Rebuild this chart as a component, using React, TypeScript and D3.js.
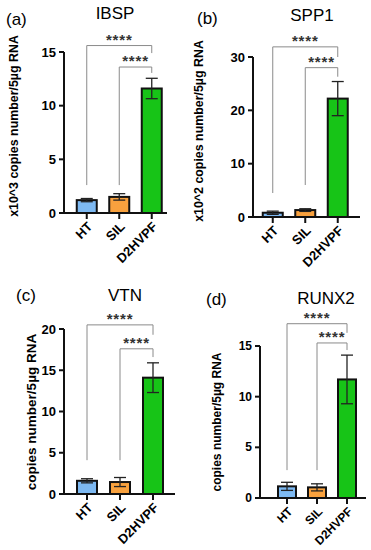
import React from "react";
import * as d3 from "d3";

const groups = ["HT", "SIL", "D2HVPF"];
const colors = ["#7db9f2", "#f8a13e", "#17c417"];

const ibspMean = [1.2, 1.5, 11.6];
const ibspErr = [0.15, 0.3, 0.95];
const spp1Mean = [0.8, 1.3, 22.2];
const spp1Err = [0.3, 0.25, 3.2];
const vtnMean = [1.6, 1.45, 14.1];
const vtnErr = [0.25, 0.55, 1.8];
const runx2Mean = [1.15, 1.05, 11.7];
const runx2Err = [0.4, 0.35, 2.4];

// comparisons: [from, to, bracket level, left leg end, right leg end]
const ibspBrackets = [[0, 2, 15.6, 2.6, 14.9], [1, 2, 13.6, 2.6, 13.05]];
const spp1Brackets = [[0, 2, 31.9, 4.5, 30], [1, 2, 28, 6, 26.3]];
const vtnBrackets = [[0, 2, 20.5, 4.1, 19.3], [1, 2, 17.6, 4.1, 16.6]];
const runx2Brackets = [[0, 2, 17.2, 2.75, 16.3], [1, 2, 15.3, 2.75, 14.6]];

const FONT = "'Liberation Sans', Arial, sans-serif";

type PanelProps = {
  tag: string;
  title: string;
  ylabel: string;
  mean: number[];
  err: number[];
  brackets: number[][];
  yMax: number;
  yTicks: number[];
  axisX: number;
  y0: number;
  y1: number;
  bandStart: number;
  step: number;
  axisEnd: number;
  barW: number;
  tagPos: [number, number];
  titlePos: [number, number];
  labelPos: [number, number];
  labelSize: number;
  tickSize: number;
};

const Panel = (p: PanelProps) => {
  const x = d3
    .scaleBand()
    .domain(groups)
    .range([p.bandStart, p.bandStart + p.step * 3]);
  const y = d3.scaleLinear().domain([0, p.yMax]).range([p.y0, p.y1]);
  const cx = (i: number) => (x(groups[i]) as number) + x.bandwidth() / 2;

  return (
    <g>
      <text x={p.tagPos[0]} y={p.tagPos[1]} fontSize={17} fontFamily={FONT}>
        {p.tag}
      </text>
      <text
        x={p.titlePos[0]}
        y={p.titlePos[1]}
        fontSize={17}
        fontFamily={FONT}
        textAnchor="middle"
      >
        {p.title}
      </text>
      <text
        transform={`translate(${p.labelPos[0]},${p.labelPos[1]}) rotate(-90)`}
        fontSize={p.labelSize}
        fontWeight="bold"
        fontFamily={FONT}
        textAnchor="middle"
        dominantBaseline="middle"
      >
        {p.ylabel}
      </text>

      {/* brackets */}
      {p.brackets.map((b, i) => {
        const xa = cx(b[0]);
        const xb = cx(b[1]);
        const yl = y(b[2]);
        return (
          <g key={"br" + i}>
            <path
              d={`M${xa},${y(b[3])}V${yl}H${xb}V${y(b[4])}`}
              fill="none"
              stroke="#8a8a8a"
              strokeWidth={1}
            />
            <text
              x={(xa + xb) / 2}
              y={yl - 1}
              fontSize={15}
              fontWeight="bold"
              fontFamily={FONT}
              textAnchor="middle"
              letterSpacing={0.8}
              fill="#333"
            >
              ****
            </text>
          </g>
        );
      })}

      {/* bars */}
      {p.mean.map((m, i) => (
        <rect
          key={"bar" + i}
          x={cx(i) - p.barW / 2}
          y={y(m)}
          width={p.barW}
          height={y(0) - y(m)}
          fill={colors[i]}
          stroke="#111"
          strokeWidth={2}
        />
      ))}
      {p.mean.map((m, i) => (
        <g key={"err" + i} stroke="#222" strokeWidth={1.3}>
          <line x1={cx(i)} x2={cx(i)} y1={y(m - p.err[i])} y2={y(m + p.err[i])} />
          <line
            x1={cx(i) - 6}
            x2={cx(i) + 6}
            y1={y(m + p.err[i])}
            y2={y(m + p.err[i])}
          />
          <line
            x1={cx(i) - 6}
            x2={cx(i) + 6}
            y1={y(m - p.err[i])}
            y2={y(m - p.err[i])}
          />
        </g>
      ))}

      {/* y axis */}
      <line
        x1={p.axisX}
        x2={p.axisX}
        y1={y(p.yMax)}
        y2={y(0) + 1}
        stroke="#111"
        strokeWidth={2}
      />
      {p.yTicks.map((t) => (
        <g key={"yt" + t}>
          <line
            x1={p.axisX - 5}
            x2={p.axisX}
            y1={y(t)}
            y2={y(t)}
            stroke="#111"
            strokeWidth={2}
          />
          <text
            x={p.axisX - 8}
            y={y(t)}
            fontSize={p.tickSize}
            fontWeight="bold"
            fontFamily={FONT}
            textAnchor="end"
            dominantBaseline="central"
          >
            {t}
          </text>
        </g>
      ))}

      {/* x axis */}
      <line
        x1={p.axisX - 1}
        x2={p.axisEnd}
        y1={y(0)}
        y2={y(0)}
        stroke="#111"
        strokeWidth={2}
      />
      {groups.map((g, i) => (
        <g key={"xt" + g}>
          <line
            x1={cx(i)}
            x2={cx(i)}
            y1={y(0)}
            y2={y(0) + 6}
            stroke="#111"
            strokeWidth={2}
          />
          <text
            transform={`translate(${cx(i) + 4},${y(0) + 12}) rotate(-45)`}
            fontSize={p.tickSize}
            fontWeight="bold"
            fontFamily={FONT}
            textAnchor="end"
            dominantBaseline="middle"
          >
            {g}
          </text>
        </g>
      ))}
    </g>
  );
};

export default function App() {
  return (
    <svg
      width={371}
      height={550}
      style={{ position: "absolute", left: 0, top: 0, background: "#fff" }}
    >
      <Panel
        tag="(a)"
        title="IBSP"
        ylabel="x10^3 copies number/5µg RNA"
        mean={ibspMean}
        err={ibspErr}
        brackets={ibspBrackets}
        yMax={15}
        yTicks={[0, 5, 10, 15]}
        axisX={64}
        y0={213}
        y1={52}
        bandStart={70.5}
        step={32.5}
        axisEnd={167}
        barW={20}
        tagPos={[6, 25]}
        titlePos={[115, 19]}
        labelPos={[15, 126]}
        labelSize={12.4}
        tickSize={13}
      />
      <Panel
        tag="(b)"
        title="SPP1"
        ylabel="x10^2 copies number/5µg RNA"
        mean={spp1Mean}
        err={spp1Err}
        brackets={spp1Brackets}
        yMax={30}
        yTicks={[0, 10, 20, 30]}
        axisX={253}
        y0={217}
        y1={57}
        bandStart={256.5}
        step={32.5}
        axisEnd={360}
        barW={20}
        tagPos={[197, 24]}
        titlePos={[312, 21]}
        labelPos={[200, 131]}
        labelSize={12.4}
        tickSize={13}
      />
      <Panel
        tag="(c)"
        title="VTN"
        ylabel="copies number/5µg RNA"
        mean={vtnMean}
        err={vtnErr}
        brackets={vtnBrackets}
        yMax={20}
        yTicks={[0, 5, 10, 15, 20]}
        axisX={64}
        y0={494}
        y1={329}
        bandStart={70.5}
        step={33}
        axisEnd={175}
        barW={20}
        tagPos={[16, 301]}
        titlePos={[125, 301]}
        labelPos={[32, 412]}
        labelSize={13.5}
        tickSize={13}
      />
      <Panel
        tag="(d)"
        title="RUNX2"
        ylabel="copies number/5µg RNA"
        mean={runx2Mean}
        err={runx2Err}
        brackets={runx2Brackets}
        yMax={15}
        yTicks={[0, 5, 10, 15]}
        axisX={260}
        y0={498}
        y1={346}
        bandStart={272}
        step={30}
        axisEnd={366}
        barW={18}
        tagPos={[206, 305]}
        titlePos={[326, 304]}
        labelPos={[218, 422]}
        labelSize={12}
        tickSize={12}
      />
    </svg>
  );
}
